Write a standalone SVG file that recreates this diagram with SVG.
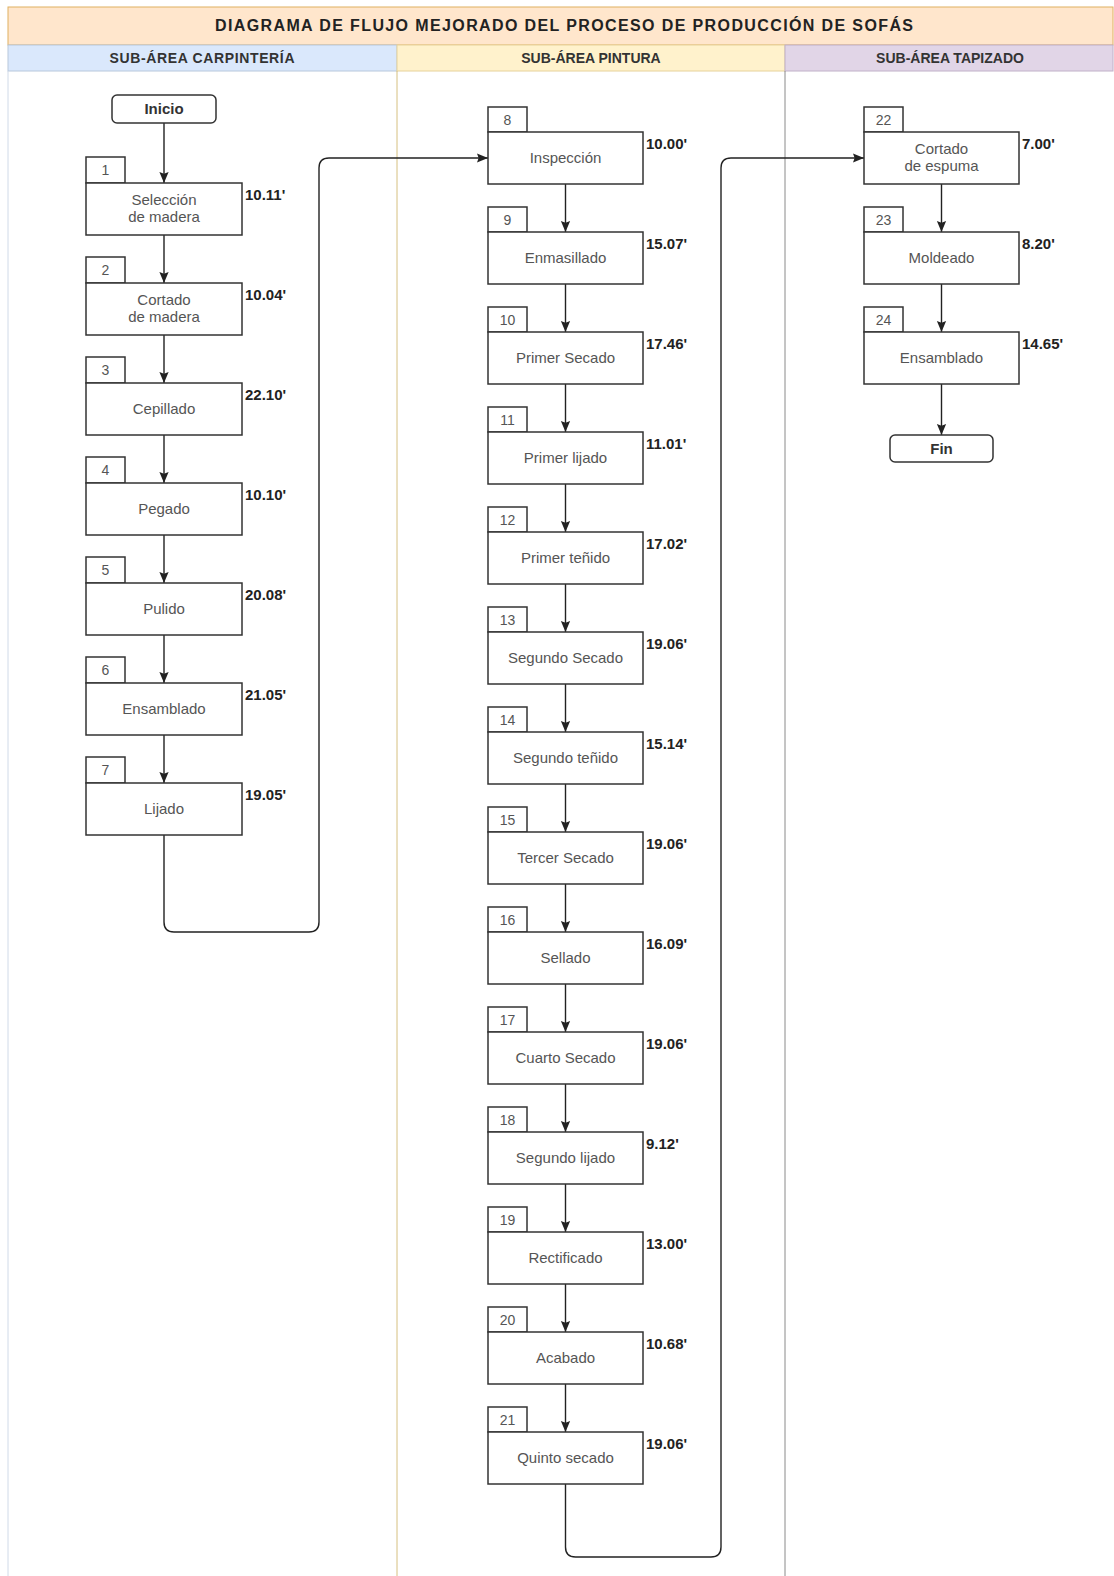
<svg xmlns="http://www.w3.org/2000/svg" width="1114" height="1576" viewBox="0 0 1114 1576">
<style>
.box{fill:#ffffff;stroke:#333333;stroke-width:1.5}
.term{fill:#ffffff;stroke:#333333;stroke-width:1.5}
.lbl{font-family:"Liberation Sans",Arial,sans-serif;font-size:15px;fill:#555555;text-anchor:middle}
.num{font-family:"Liberation Sans",Arial,sans-serif;font-size:14px;fill:#555555;text-anchor:middle}
.dur{font-family:"Liberation Sans",Arial,sans-serif;font-size:15px;font-weight:bold;fill:#222222}
.tt{font-family:"Liberation Sans",Arial,sans-serif;font-size:15px;font-weight:bold;fill:#333333;text-anchor:middle}
.hdr{font-family:"Liberation Sans",Arial,sans-serif;font-size:14px;font-weight:bold;fill:#333333;text-anchor:middle}
.ttl{font-family:"Liberation Sans",Arial,sans-serif;font-size:16px;font-weight:bold;fill:#222222;text-anchor:middle}
.conn{fill:none;stroke:#222222;stroke-width:1.4}
</style>
<defs>
<marker id="arr" viewBox="0 0 10 10" refX="10" refY="5" markerWidth="11" markerHeight="11" markerUnits="userSpaceOnUse" orient="auto">
<path d="M0,0.8 L10,5 L0,9.2 L1.5,5 Z" fill="#222222"/>
</marker>
</defs>
<rect x="0" y="0" width="1114" height="1576" fill="#ffffff"/>
<g id="pool">
<rect x="8" y="7" width="1105" height="38" fill="#ffe6cc" stroke="#e0b060" stroke-width="1"/>
<text class="ttl" x="564" y="31" textLength="698" lengthAdjust="spacing">DIAGRAMA DE FLUJO MEJORADO DEL PROCESO DE PRODUCCIÓN DE SOFÁS</text>
</g>
<g id="lane-carpinteria">
<rect x="8" y="45" width="389" height="26" fill="#dae8fc" stroke="#b8c8dc" stroke-width="1"/>
<text class="hdr" x="202" y="63" textLength="185" lengthAdjust="spacing">SUB-ÁREA CARPINTERÍA</text>
<line x1="8" y1="71" x2="8" y2="1576" stroke="#d0dae8" stroke-width="1"/>
</g>
<g id="lane-pintura">
<rect x="397" y="45" width="388" height="26" fill="#fff2cc" stroke="#e6d29a" stroke-width="1"/>
<text class="hdr" x="591" y="63">SUB-ÁREA PINTURA</text>
<line x1="397" y1="71" x2="397" y2="1576" stroke="#d6c080" stroke-width="1"/>
</g>
<g id="lane-tapizado">
<rect x="785" y="45" width="328" height="26" fill="#e1d5e7" stroke="#c0b0c8" stroke-width="1"/>
<text class="hdr" x="950" y="63">SUB-ÁREA TAPIZADO</text>
<line x1="785" y1="71" x2="785" y2="1576" stroke="#8a8a8a" stroke-width="1"/>
</g>

<g id="connectors">
<line class="conn" x1="164" y1="123" x2="164" y2="183" marker-end="url(#arr)"/>
<line class="conn" x1="164" y1="235" x2="164" y2="283" marker-end="url(#arr)"/>
<line class="conn" x1="164" y1="335" x2="164" y2="383" marker-end="url(#arr)"/>
<line class="conn" x1="164" y1="435" x2="164" y2="483" marker-end="url(#arr)"/>
<line class="conn" x1="164" y1="535" x2="164" y2="583" marker-end="url(#arr)"/>
<line class="conn" x1="164" y1="635" x2="164" y2="683" marker-end="url(#arr)"/>
<line class="conn" x1="164" y1="735" x2="164" y2="783" marker-end="url(#arr)"/>
<path class="conn" d="M164,835 V922 Q164,932 174,932 H309 Q319,932 319,922 V168 Q319,158 329,158 H488" marker-end="url(#arr)"/>
<line class="conn" x1="565.5" y1="184" x2="565.5" y2="232" marker-end="url(#arr)"/>
<line class="conn" x1="565.5" y1="284" x2="565.5" y2="332" marker-end="url(#arr)"/>
<line class="conn" x1="565.5" y1="384" x2="565.5" y2="432" marker-end="url(#arr)"/>
<line class="conn" x1="565.5" y1="484" x2="565.5" y2="532" marker-end="url(#arr)"/>
<line class="conn" x1="565.5" y1="584" x2="565.5" y2="632" marker-end="url(#arr)"/>
<line class="conn" x1="565.5" y1="684" x2="565.5" y2="732" marker-end="url(#arr)"/>
<line class="conn" x1="565.5" y1="784" x2="565.5" y2="832" marker-end="url(#arr)"/>
<line class="conn" x1="565.5" y1="884" x2="565.5" y2="932" marker-end="url(#arr)"/>
<line class="conn" x1="565.5" y1="984" x2="565.5" y2="1032" marker-end="url(#arr)"/>
<line class="conn" x1="565.5" y1="1084" x2="565.5" y2="1132" marker-end="url(#arr)"/>
<line class="conn" x1="565.5" y1="1184" x2="565.5" y2="1232" marker-end="url(#arr)"/>
<line class="conn" x1="565.5" y1="1284" x2="565.5" y2="1332" marker-end="url(#arr)"/>
<line class="conn" x1="565.5" y1="1384" x2="565.5" y2="1432" marker-end="url(#arr)"/>
<path class="conn" d="M565.5,1484 V1547 Q565.5,1557 575.5,1557 H711 Q721,1557 721,1547 V168 Q721,158 731,158 H864" marker-end="url(#arr)"/>
<line class="conn" x1="941.5" y1="184" x2="941.5" y2="232" marker-end="url(#arr)"/>
<line class="conn" x1="941.5" y1="284" x2="941.5" y2="332" marker-end="url(#arr)"/>
<line class="conn" x1="941.5" y1="384" x2="941.5" y2="435" marker-end="url(#arr)"/>
</g>

<g id="inicio"><rect class="term" x="112" y="95" width="104" height="28" rx="5"/><text class="tt" x="164" y="114">Inicio</text></g>

<g id="n1"><rect class="box" x="86" y="157" width="39" height="26"/><text class="num" x="105.5" y="175">1</text><rect class="box" x="86" y="183" width="156" height="52"/><text class="lbl" x="164" y="205">Selección</text><text class="lbl" x="164" y="222">de madera</text><text class="dur" x="245" y="200">10.11'</text></g>
<g id="n2"><rect class="box" x="86" y="257" width="39" height="26"/><text class="num" x="105.5" y="275">2</text><rect class="box" x="86" y="283" width="156" height="52"/><text class="lbl" x="164" y="305">Cortado</text><text class="lbl" x="164" y="322">de madera</text><text class="dur" x="245" y="300">10.04'</text></g>
<g id="n3"><rect class="box" x="86" y="357" width="39" height="26"/><text class="num" x="105.5" y="375">3</text><rect class="box" x="86" y="383" width="156" height="52"/><text class="lbl" x="164" y="414">Cepillado</text><text class="dur" x="245" y="400">22.10'</text></g>
<g id="n4"><rect class="box" x="86" y="457" width="39" height="26"/><text class="num" x="105.5" y="475">4</text><rect class="box" x="86" y="483" width="156" height="52"/><text class="lbl" x="164" y="514">Pegado</text><text class="dur" x="245" y="500">10.10'</text></g>
<g id="n5"><rect class="box" x="86" y="557" width="39" height="26"/><text class="num" x="105.5" y="575">5</text><rect class="box" x="86" y="583" width="156" height="52"/><text class="lbl" x="164" y="614">Pulido</text><text class="dur" x="245" y="600">20.08'</text></g>
<g id="n6"><rect class="box" x="86" y="657" width="39" height="26"/><text class="num" x="105.5" y="675">6</text><rect class="box" x="86" y="683" width="156" height="52"/><text class="lbl" x="164" y="714">Ensamblado</text><text class="dur" x="245" y="700">21.05'</text></g>
<g id="n7"><rect class="box" x="86" y="757" width="39" height="26"/><text class="num" x="105.5" y="775">7</text><rect class="box" x="86" y="783" width="156" height="52"/><text class="lbl" x="164" y="814">Lijado</text><text class="dur" x="245" y="800">19.05'</text></g>

<g id="n8"><rect class="box" x="488" y="107" width="39" height="25"/><text class="num" x="507.5" y="124.5">8</text><rect class="box" x="488" y="132" width="155" height="52"/><text class="lbl" x="565.5" y="163">Inspección</text><text class="dur" x="646" y="149">10.00'</text></g>
<g id="n9"><rect class="box" x="488" y="207" width="39" height="25"/><text class="num" x="507.5" y="224.5">9</text><rect class="box" x="488" y="232" width="155" height="52"/><text class="lbl" x="565.5" y="263">Enmasillado</text><text class="dur" x="646" y="249">15.07'</text></g>
<g id="n10"><rect class="box" x="488" y="307" width="39" height="25"/><text class="num" x="507.5" y="324.5">10</text><rect class="box" x="488" y="332" width="155" height="52"/><text class="lbl" x="565.5" y="363">Primer Secado</text><text class="dur" x="646" y="349">17.46'</text></g>
<g id="n11"><rect class="box" x="488" y="407" width="39" height="25"/><text class="num" x="507.5" y="424.5">11</text><rect class="box" x="488" y="432" width="155" height="52"/><text class="lbl" x="565.5" y="463">Primer lijado</text><text class="dur" x="646" y="449">11.01'</text></g>
<g id="n12"><rect class="box" x="488" y="507" width="39" height="25"/><text class="num" x="507.5" y="524.5">12</text><rect class="box" x="488" y="532" width="155" height="52"/><text class="lbl" x="565.5" y="563">Primer teñido</text><text class="dur" x="646" y="549">17.02'</text></g>
<g id="n13"><rect class="box" x="488" y="607" width="39" height="25"/><text class="num" x="507.5" y="624.5">13</text><rect class="box" x="488" y="632" width="155" height="52"/><text class="lbl" x="565.5" y="663">Segundo Secado</text><text class="dur" x="646" y="649">19.06'</text></g>
<g id="n14"><rect class="box" x="488" y="707" width="39" height="25"/><text class="num" x="507.5" y="724.5">14</text><rect class="box" x="488" y="732" width="155" height="52"/><text class="lbl" x="565.5" y="763">Segundo teñido</text><text class="dur" x="646" y="749">15.14'</text></g>
<g id="n15"><rect class="box" x="488" y="807" width="39" height="25"/><text class="num" x="507.5" y="824.5">15</text><rect class="box" x="488" y="832" width="155" height="52"/><text class="lbl" x="565.5" y="863">Tercer Secado</text><text class="dur" x="646" y="849">19.06'</text></g>
<g id="n16"><rect class="box" x="488" y="907" width="39" height="25"/><text class="num" x="507.5" y="924.5">16</text><rect class="box" x="488" y="932" width="155" height="52"/><text class="lbl" x="565.5" y="963">Sellado</text><text class="dur" x="646" y="949">16.09'</text></g>
<g id="n17"><rect class="box" x="488" y="1007" width="39" height="25"/><text class="num" x="507.5" y="1024.5">17</text><rect class="box" x="488" y="1032" width="155" height="52"/><text class="lbl" x="565.5" y="1063">Cuarto Secado</text><text class="dur" x="646" y="1049">19.06'</text></g>
<g id="n18"><rect class="box" x="488" y="1107" width="39" height="25"/><text class="num" x="507.5" y="1124.5">18</text><rect class="box" x="488" y="1132" width="155" height="52"/><text class="lbl" x="565.5" y="1163">Segundo lijado</text><text class="dur" x="646" y="1149">9.12'</text></g>
<g id="n19"><rect class="box" x="488" y="1207" width="39" height="25"/><text class="num" x="507.5" y="1224.5">19</text><rect class="box" x="488" y="1232" width="155" height="52"/><text class="lbl" x="565.5" y="1263">Rectificado</text><text class="dur" x="646" y="1249">13.00'</text></g>
<g id="n20"><rect class="box" x="488" y="1307" width="39" height="25"/><text class="num" x="507.5" y="1324.5">20</text><rect class="box" x="488" y="1332" width="155" height="52"/><text class="lbl" x="565.5" y="1363">Acabado</text><text class="dur" x="646" y="1349">10.68'</text></g>
<g id="n21"><rect class="box" x="488" y="1407" width="39" height="25"/><text class="num" x="507.5" y="1424.5">21</text><rect class="box" x="488" y="1432" width="155" height="52"/><text class="lbl" x="565.5" y="1463">Quinto secado</text><text class="dur" x="646" y="1449">19.06'</text></g>

<g id="n22"><rect class="box" x="864" y="107" width="39" height="25"/><text class="num" x="883.5" y="124.5">22</text><rect class="box" x="864" y="132" width="155" height="52"/><text class="lbl" x="941.5" y="154">Cortado</text><text class="lbl" x="941.5" y="171">de espuma</text><text class="dur" x="1022" y="149">7.00'</text></g>
<g id="n23"><rect class="box" x="864" y="207" width="39" height="25"/><text class="num" x="883.5" y="224.5">23</text><rect class="box" x="864" y="232" width="155" height="52"/><text class="lbl" x="941.5" y="263">Moldeado</text><text class="dur" x="1022" y="249">8.20'</text></g>
<g id="n24"><rect class="box" x="864" y="307" width="39" height="25"/><text class="num" x="883.5" y="324.5">24</text><rect class="box" x="864" y="332" width="155" height="52"/><text class="lbl" x="941.5" y="363">Ensamblado</text><text class="dur" x="1022" y="349">14.65'</text></g>

<g id="fin"><rect class="term" x="890" y="435" width="103" height="27" rx="5"/><text class="tt" x="941.5" y="454">Fin</text></g>
</svg>
